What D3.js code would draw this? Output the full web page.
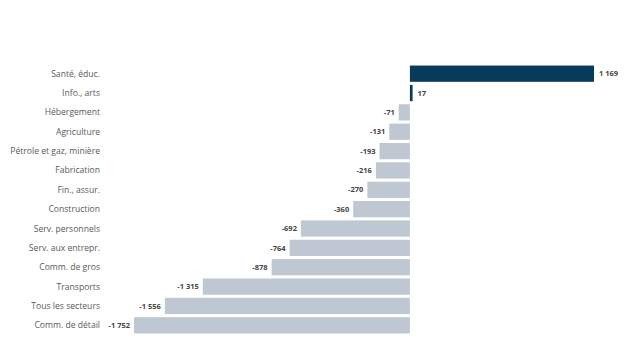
<!DOCTYPE html>
<html>
<head>
<meta charset="utf-8">
<script src="https://d3js.org/d3.v7.min.js"></script>
<style>
  body { margin: 0; background: #fff; }
</style>
</head>
<body>
<div id="chart"></div>
<script>
// secteurs et variations
var sectors = ["Santé, éduc.", "Info., arts", "Hébergement", "Agriculture",
  "Pétrole et gaz, minière", "Fabrication", "Fin., assur.", "Construction",
  "Serv. personnels", "Serv. aux entrepr.", "Comm. de gros", "Transports",
  "Tous les secteurs", "Comm. de détail"];
var values = [1169, 17, -71, -131, -193, -216, -270, -360, -692, -764, -878, -1315, -1556, -1752];

var width = 636, height = 362;
var margin = {top: 64, bottom: 27, left: 134, right: 42};

var svg = d3.select("#chart").append("svg")
  .attr("width", width)
  .attr("height", height);

var x = d3.scaleLinear()
  .domain([-1752, 1169])
  .range([margin.left, width - margin.right]);

var y = d3.scaleBand()
  .domain(sectors)
  .range([margin.top, height - margin.bottom])
  .paddingInner(0.16)
  .paddingOuter(0.08);

var fmt = function(v) {
  var s = d3.format(",")(Math.abs(v)).replace(/,/g, " ");
  return (v < 0 ? "-" : "") + s;
};

var data = sectors.map(function(s, i) { return {name: s, value: values[i]}; });

svg.selectAll("rect.bar")
  .data(data).enter()
  .append("rect")
  .attr("class", "bar")
  .attr("x", function(d) { return x(Math.min(0, d.value)); })
  .attr("y", function(d) { return y(d.name); })
  .attr("width", function(d) { return Math.abs(x(d.value) - x(0)); })
  .attr("height", y.bandwidth())
  .attr("fill", function(d) { return d.value >= 0 ? "#073b5b" : "#bfc7d3"; });

// category labels
svg.selectAll("text.cat")
  .data(data).enter()
  .append("text")
  .attr("class", "cat")
  .attr("x", 100)
  .attr("y", function(d) { return y(d.name) + y.bandwidth() / 2; })
  .attr("dy", "0.35em")
  .attr("text-anchor", "end")
  .attr("font-family", "Open Sans, sans-serif")
  .attr("font-size", 8.6)
  .attr("fill", "#5a5a5a")
  .text(function(d) { return d.name; });

// value labels
svg.selectAll("text.val")
  .data(data).enter()
  .append("text")
  .attr("class", "val")
  .attr("x", function(d) { return d.value >= 0 ? x(d.value) + 5 : x(d.value) - 4; })
  .attr("y", function(d) { return y(d.name) + y.bandwidth() / 2; })
  .attr("dy", "0.35em")
  .attr("text-anchor", function(d) { return d.value >= 0 ? "start" : "end"; })
  .attr("font-family", "Open Sans, sans-serif")
  .attr("font-size", 7.5)
  .attr("font-weight", "bold")
  .attr("fill", "#444")
  .text(function(d) { return fmt(d.value); });
</script>
</body>
</html>
